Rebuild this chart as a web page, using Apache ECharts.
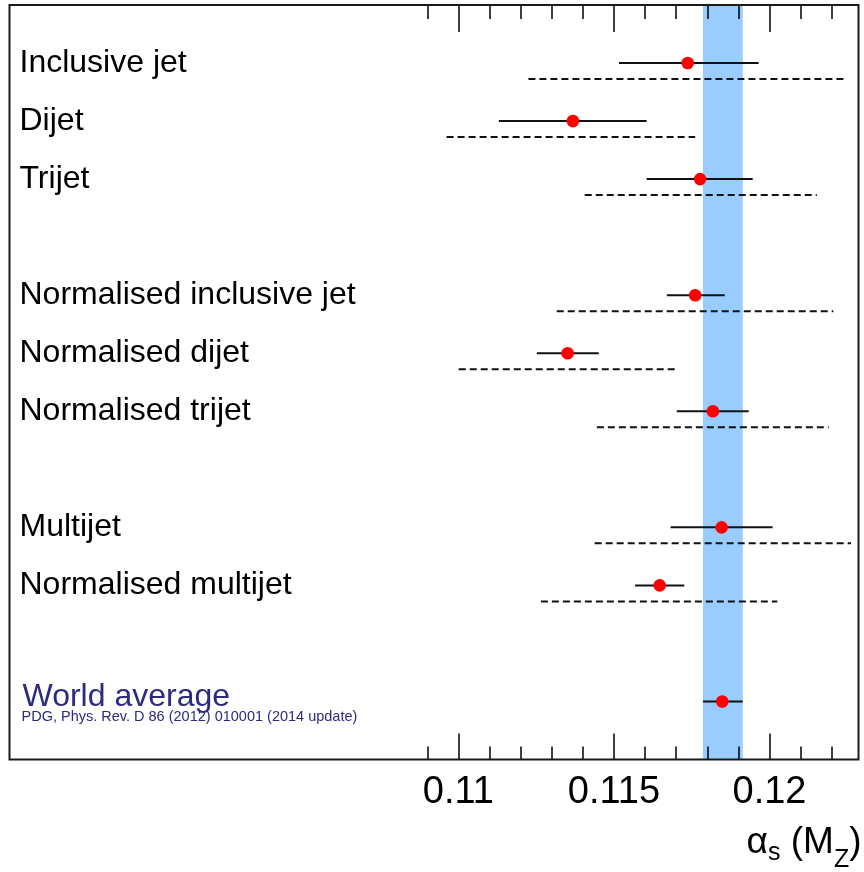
<!DOCTYPE html>
<html>
<head>
<meta charset="utf-8">
<script src="https://cdn.jsdelivr.net/npm/echarts@6/dist/echarts.min.js"></script>
<style>
html,body{margin:0;padding:0;background:#ffffff;}
#chart{width:864px;height:872px;}
</style>
</head>
<body>
<div id="chart"></div>
<script>
// ---------------- data ----------------
const categories = ['Inclusive jet', 'Dijet', 'Trijet', '',
  'Normalised inclusive jet', 'Normalised dijet', 'Normalised trijet', '',
  'Multijet', 'Normalised multijet', '', 'World average'];
const measurements = ['Inclusive jet', 'Dijet', 'Trijet',
  'Normalised inclusive jet', 'Normalised dijet', 'Normalised trijet',
  'Multijet', 'Normalised multijet', 'World average'];
const central = [0.11737, 0.11368, 0.11777, 0.11761, 0.11351, 0.11818, 0.11846, 0.11647, 0.11848];
const expLow  = [0.11516, 0.11130, 0.11605, 0.11670, 0.11252, 0.11702, 0.11682, 0.11568, 0.11786];
const expHigh = [0.11965, 0.11605, 0.11946, 0.11856, 0.11451, 0.11933, 0.12010, 0.11726, 0.11914];
const totLow  = [0.11225, 0.10962, 0.11406, 0.11316, 0.11001, 0.11445, 0.11438, 0.11265, null];
const totHigh = [0.12243, 0.11761, 0.12152, 0.12205, 0.11696, 0.12190, 0.12262, 0.12025, null];
const worldBand = [0.11786, 0.11914];
const xRange = [0.09557, 0.12286];
const majorTicks = [0.11, 0.115, 0.12];
const tickLabels = ['0.11', '0.115', '0.12'];
const minorTicks = [0.109, 0.111, 0.112, 0.113, 0.114, 0.116, 0.117, 0.118, 0.119, 0.121, 0.122];
const worldAverageName = 'World average';
const pdgRef = 'PDG, Phys. Rev. D 86 (2012) 010001 (2014 update)';

// ---------------- chart ----------------
const FONT = 'Liberation Sans, Arial, Helvetica, sans-serif';
const yData = [''].concat(categories, ['']);
const seriesData = measurements.map((name, i) => [
  yData.indexOf(name), central[i], expLow[i], expHigh[i],
  totLow[i] == null ? NaN : totLow[i], totHigh[i] == null ? NaN : totHigh[i]
]);

const DASH_OFFSET = 16; // px below the point row

function renderItem(params, api) {
  const row = api.value(0);
  const c = api.coord([api.value(1), row]);
  const lo = api.coord([api.value(2), row]);
  const hi = api.coord([api.value(3), row]);
  const children = [];
  const tl = api.value(4), th = api.value(5);
  if (isFinite(tl) && isFinite(th)) {
    const a = api.coord([tl, row]);
    const b = api.coord([th, row]);
    children.push({
      type: 'line',
      shape: { x1: a[0], y1: a[1] + DASH_OFFSET, x2: b[0], y2: b[1] + DASH_OFFSET },
      style: { stroke: '#111', lineWidth: 2, lineDash: [7, 4] }
    });
  }
  children.push({
    type: 'line',
    shape: { x1: lo[0], y1: lo[1], x2: hi[0], y2: hi[1] },
    style: { stroke: '#111', lineWidth: 2 }
  });
  children.push({
    type: 'circle',
    shape: { cx: c[0], cy: c[1], r: 6.3 },
    style: { fill: '#ff0000' }
  });
  return { type: 'group', children: children };
}

const xBase = {
  type: 'value', min: xRange[0], max: xRange[1], gridIndex: 0, z: 5,
  axisLine: { show: false }, splitLine: { show: false }
};

const option = {
  animation: false,
  backgroundColor: '#ffffff',
  grid: {
    left: 9.5, right: 5.5, top: 5, bottom: 112.5,
    show: true, borderColor: '#1a1a1a', borderWidth: 2,
    backgroundColor: 'transparent', z: 10, containLabel: false,
    outerBoundsMode: 'none'
  },
  xAxis: [
    Object.assign({}, xBase, {
      position: 'bottom',
      axisTick: { show: true, inside: true, length: 13, customValues: minorTicks,
        lineStyle: { color: '#000', width: 1.5 } },
      axisLabel: { show: false }
    }),
    Object.assign({}, xBase, {
      position: 'bottom',
      axisTick: { show: true, inside: true, length: 26, customValues: majorTicks,
        lineStyle: { color: '#000', width: 1.5 } },
      axisLabel: {
        show: true, customValues: majorTicks, margin: 14,
        fontSize: 38, fontFamily: FONT, color: '#000',
        formatter: function (v) {
          const k = majorTicks.findIndex(t => Math.abs(t - v) < 1e-9);
          return k >= 0 ? tickLabels[k] : '';
        }
      },
      name: '{a|\u03b1}{s|s}{a| (M}{z|Z}{a|)}',
      nameLocation: 'end',
      nameGap: 3,
      nameMoveOverlap: false,
      nameTextStyle: {
        align: 'right', verticalAlign: 'top', padding: [76, 0, 0, 0],
        rich: {
          a: { fontSize: 37, fontFamily: FONT, color: '#000', lineHeight: 37, padding: [0, 0, 11, 0], verticalAlign: 'bottom' },
          s: { fontSize: 25, fontFamily: FONT, color: '#000', lineHeight: 25, padding: [0, 0, 7, 0], verticalAlign: 'bottom' },
          z: { fontSize: 25, fontFamily: FONT, color: '#000', lineHeight: 25, padding: [0, 0, 0, 0], verticalAlign: 'bottom' }
        }
      }
    }),
    Object.assign({}, xBase, {
      position: 'top',
      axisTick: { show: true, inside: true, length: 14, customValues: minorTicks,
        lineStyle: { color: '#000', width: 1.5 } },
      axisLabel: { show: false }
    }),
    Object.assign({}, xBase, {
      position: 'top',
      axisTick: { show: true, inside: true, length: 27, customValues: majorTicks,
        lineStyle: { color: '#000', width: 1.5 } },
      axisLabel: { show: false }
    })
  ],
  yAxis: [
    {
      type: 'category', data: yData, inverse: true, boundaryGap: false,
      position: 'left', gridIndex: 0,
      axisLine: { show: false }, axisTick: { show: false }, splitLine: { show: false },
      axisLabel: {
        show: true, inside: true, interval: 0, margin: 10,
        fontSize: 32, fontFamily: FONT, color: '#000',
        formatter: function (v) {
          return v === worldAverageName ? '{wa|' + v + '}' : v;
        },
        rich: {
          wa: { fontSize: 32, fontFamily: FONT, color: '#2b2b80', padding: [0, 0, 8, 3] }
        }
      }
    },
    {
      type: 'category', data: yData, inverse: true, boundaryGap: false,
      position: 'left', offset: 0, gridIndex: 0,
      axisLine: { show: false }, axisTick: { show: false }, splitLine: { show: false },
      axisLabel: {
        show: true, inside: true, interval: 0, margin: 12,
        fontSize: 14.5, fontFamily: FONT, color: '#2b2b80',
        formatter: function (v) { return v === worldAverageName ? '{gap|}\n{p|' + pdgRef + '}' : ''; },
        rich: {
          gap: { lineHeight: 31, fontSize: 14.5 },
          p: { lineHeight: 15, fontSize: 14.5, fontFamily: FONT, color: '#2b2b80' }
        }
      }
    }
  ],
  series: [
    {
      type: 'scatter', data: [], xAxisIndex: 0, yAxisIndex: 0, z: 1, silent: true,
      markArea: {
        silent: true,
        itemStyle: { color: '#99ccff', opacity: 1 },
        data: [[{ xAxis: worldBand[0] }, { xAxis: worldBand[1] }]]
      }
    },
    {
      type: 'custom', xAxisIndex: 0, yAxisIndex: 0, z: 3,
      renderItem: renderItem,
      encode: { x: 1, y: 0 },
      data: seriesData
    }
  ]
};

const chart = echarts.init(document.getElementById('chart'), null, { renderer: 'canvas' });
chart.setOption(option);
</script>
</body>
</html>
